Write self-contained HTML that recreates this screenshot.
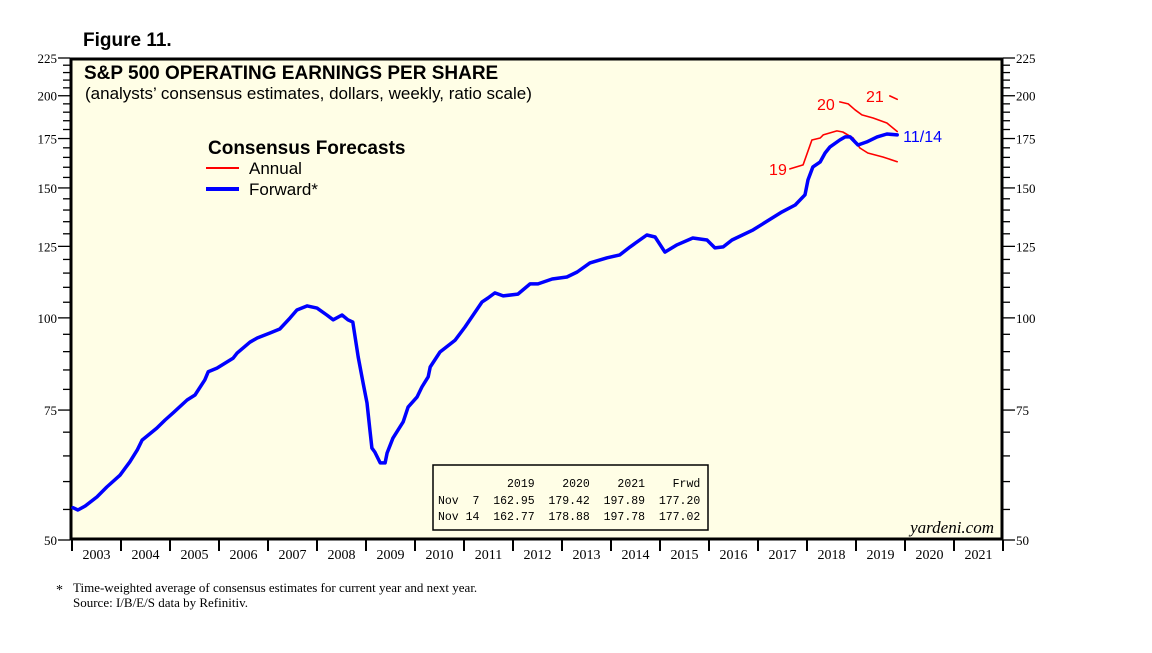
<!DOCTYPE html>
<html><head><meta charset="utf-8"><style>
body{margin:0;background:#fff;width:1152px;height:648px;overflow:hidden}
svg text{font-family:"Liberation Sans",sans-serif}
.s{font-family:"Liberation Serif",serif}
.m{font-family:"Liberation Mono",monospace;font-size:11.5px}
</style></head><body>
<svg id="c" width="1152" height="648">
<text x="83" y="46" font-size="19" font-weight="bold">Figure 11.</text>
<rect x="71" y="59" width="931" height="480" fill="#fffee6" stroke="#000" stroke-width="3"/>
<text x="84" y="79" font-size="19" font-weight="bold">S&amp;P 500 OPERATING EARNINGS PER SHARE</text>
<text x="85" y="99" font-size="17">(analysts’ consensus estimates, dollars, weekly, ratio scale)</text>
<g>
<text x="208" y="154" font-size="19" font-weight="bold">Consensus Forecasts</text>
<line x1="206" y1="168" x2="239" y2="168" stroke="red" stroke-width="2"/>
<text x="249" y="174" font-size="17">Annual</text>
<line x1="206" y1="189" x2="239" y2="189" stroke="blue" stroke-width="4"/>
<text x="249" y="195" font-size="17">Forward*</text>
</g>
<g>
<rect x="433" y="465" width="275" height="65" fill="#fffee6" stroke="#000" stroke-width="1.5"/>
<text class="m" x="438" y="487" xml:space="preserve">          2019    2020    2021    Frwd</text>
<text class="m" x="438" y="504" xml:space="preserve">Nov  7  162.95  179.42  197.89  177.20</text>
<text class="m" x="438" y="520" xml:space="preserve">Nov 14  162.77  178.88  197.78  177.02</text>
</g>
<text class="s" x="994" y="533" font-size="17" font-style="italic" text-anchor="end">yardeni.com</text>
<text class="s" x="56" y="594" font-size="14">*</text>
<text class="s" x="73" y="592" font-size="13">Time-weighted average of consensus estimates for current year and next year.</text>
<text class="s" x="73" y="607" font-size="13">Source: I/B/E/S data by Refinitiv.</text>
<g id="axes"></g><g id="series"></g>
</svg>
<script>
const yTicks=[50,75,100,125,150,175,200,225];
const years=[2003,2004,2005,2006,2007,2008,2009,2010,2011,2012,2013,2014,2015,2016,2017,2018,2019,2020,2021];
const fwdT=[2003.02,2003.12,2003.27,2003.51,2003.71,2003.98,2004.18,2004.33,2004.43,2004.73,2004.9,2005.06,2005.35,2005.51,2005.71,2005.78,2005.96,2006.29,2006.37,2006.63,2006.78,2007.04,2007.24,2007.45,2007.59,2007.8,2008.0,2008.2,2008.33,2008.51,2008.63,2008.73,2008.84,2008.94,2009.02,2009.08,2009.12,2009.18,2009.29,2009.39,2009.43,2009.55,2009.76,2009.86,2010.04,2010.14,2010.27,2010.31,2010.51,2010.82,2011.02,2011.37,2011.49,2011.63,2011.8,2012.1,2012.35,2012.51,2012.8,2013.1,2013.31,2013.57,2013.92,2014.18,2014.39,2014.73,2014.9,2015.1,2015.35,2015.67,2015.96,2016.12,2016.29,2016.47,2016.9,2017.1,2017.49,2017.76,2017.96,2018.02,2018.12,2018.27,2018.37,2018.47,2018.67,2018.78,2018.88,2019.04,2019.22,2019.43,2019.63,2019.84];
const fwdV=[55.3,54.9,55.6,57.2,59.0,61.2,63.8,66.2,68.3,70.9,72.7,74.3,77.4,78.6,82.4,84.5,85.5,88.2,89.6,92.7,93.9,95.4,96.6,100.0,102.5,103.8,103.1,100.9,99.4,100.9,99.4,98.7,88.5,81.6,76.7,70.5,66.6,65.8,63.6,63.6,65.6,68.7,72.3,75.7,78.1,80.6,83.2,85.8,89.9,93.3,97.2,105.1,106.4,108.1,107.1,107.7,111.2,111.2,112.9,113.6,115.4,118.7,120.6,121.7,124.8,129.5,128.7,122.8,125.6,128.3,127.5,124.4,124.8,127.5,131.6,134.1,139.2,142.2,146.8,153.8,160.2,162.7,167.3,170.5,174.2,175.9,175.9,171.5,173.2,175.9,177.5,177.0];
const a19T=[2017.65,2017.92,2018.1,2018.27,2018.33,2018.61,2018.73,2018.94,2019.08,2019.24,2019.55,2019.84];
const a19V=[159.2,161.2,174.2,175.3,177.0,179.2,178.6,175.3,169.9,167.3,165.2,162.8];
const a20T=[2018.67,2018.84,2018.98,2019.12,2019.35,2019.63,2019.84];
const a20V=[196.2,195.0,191.4,188.4,186.6,183.7,178.9];
const a21T=[2019.69,2019.84];
const a21V=[199.9,197.8];
const NS='http://www.w3.org/2000/svg';
const X0=72,PX=49,YB=540,YT=58;
const xs=t=>X0+(t-2003)*PX;
const ys=v=>YB-(YB-YT)*Math.log(v/50)/Math.log(225/50);
function mk(tag,at,parent){const e=document.createElementNS(NS,tag);for(const k in at)e.setAttribute(k,at[k]);parent.appendChild(e);return e;}
const ax=document.getElementById('axes'),se=document.getElementById('series');
for(let v=50;v<=225;v+=5){
 const maj=yTicks.includes(v);const y=ys(v);const L=maj?12:7;
 const t1=mk('line',{x1:70-L,y1:y,x2:70,y2:y,stroke:'#000','stroke-width':1.3},ax);
 
 
 const t2=mk('line',{x1:1003,y1:y,x2:1003+L,y2:y,stroke:'#000','stroke-width':1.3},ax);
 
 
}
yTicks.forEach(v=>{
 const y=ys(v);
 const l=mk('text',{x:57,y:y+5,'text-anchor':'end','font-size':13,class:'s'},ax);l.textContent=v;
 
 
 const r=mk('text',{x:1016,y:y+5,'font-size':13,class:'s'},ax);r.textContent=v;
 
 
});
years.concat([2022]).forEach(yr=>{
 const x=xs(yr);
 const t=mk('line',{x1:x,y1:540,x2:x,y2:551,stroke:'#000','stroke-width':2},ax);
 
 
});
years.forEach(yr=>{
 const l=mk('text',{x:xs(yr+0.5),y:559,'text-anchor':'middle','font-size':14,class:'s'},ax);l.textContent=yr;
 
 
});
function line(T,V,col,w,name){
 const d=T.map((t,i)=>(i?'L':'M')+xs(t).toFixed(1)+' '+ys(V[i]).toFixed(1)).join(' ');
 const p=mk('path',{d:d,fill:'none',stroke:col,'stroke-width':w,'stroke-linejoin':'round','stroke-linecap':'round'},se);
 
 
}
line(a19T,a19V,'red',1.6,'annual-2019-line');
line(a20T,a20V,'red',1.6,'annual-2020-line');
line(a21T,a21V,'red',1.6,'annual-2021-line');
line(fwdT,fwdV,'blue',3.5,'forward-line');
function lab(txt,x,y,col,anchor,name){
 const t=mk('text',{x:x,y:y,fill:col,'font-size':16,'text-anchor':anchor},se);t.textContent=txt;
 
 
}
lab('19',xs(a19T[0])-3,ys(a19V[0])+6,'red','end','label-2019');
lab('20',xs(a20T[0])-5,ys(a20V[0])+8,'red','end','label-2020');
lab('21',xs(a21T[0])-6,ys(a21V[0])+6,'red','end','label-2021');
lab('11/14',xs(fwdT[fwdT.length-1])+6,ys(fwdV[fwdV.length-1])+7,'blue','start','label-latest-date');
</script>
</body></html>
